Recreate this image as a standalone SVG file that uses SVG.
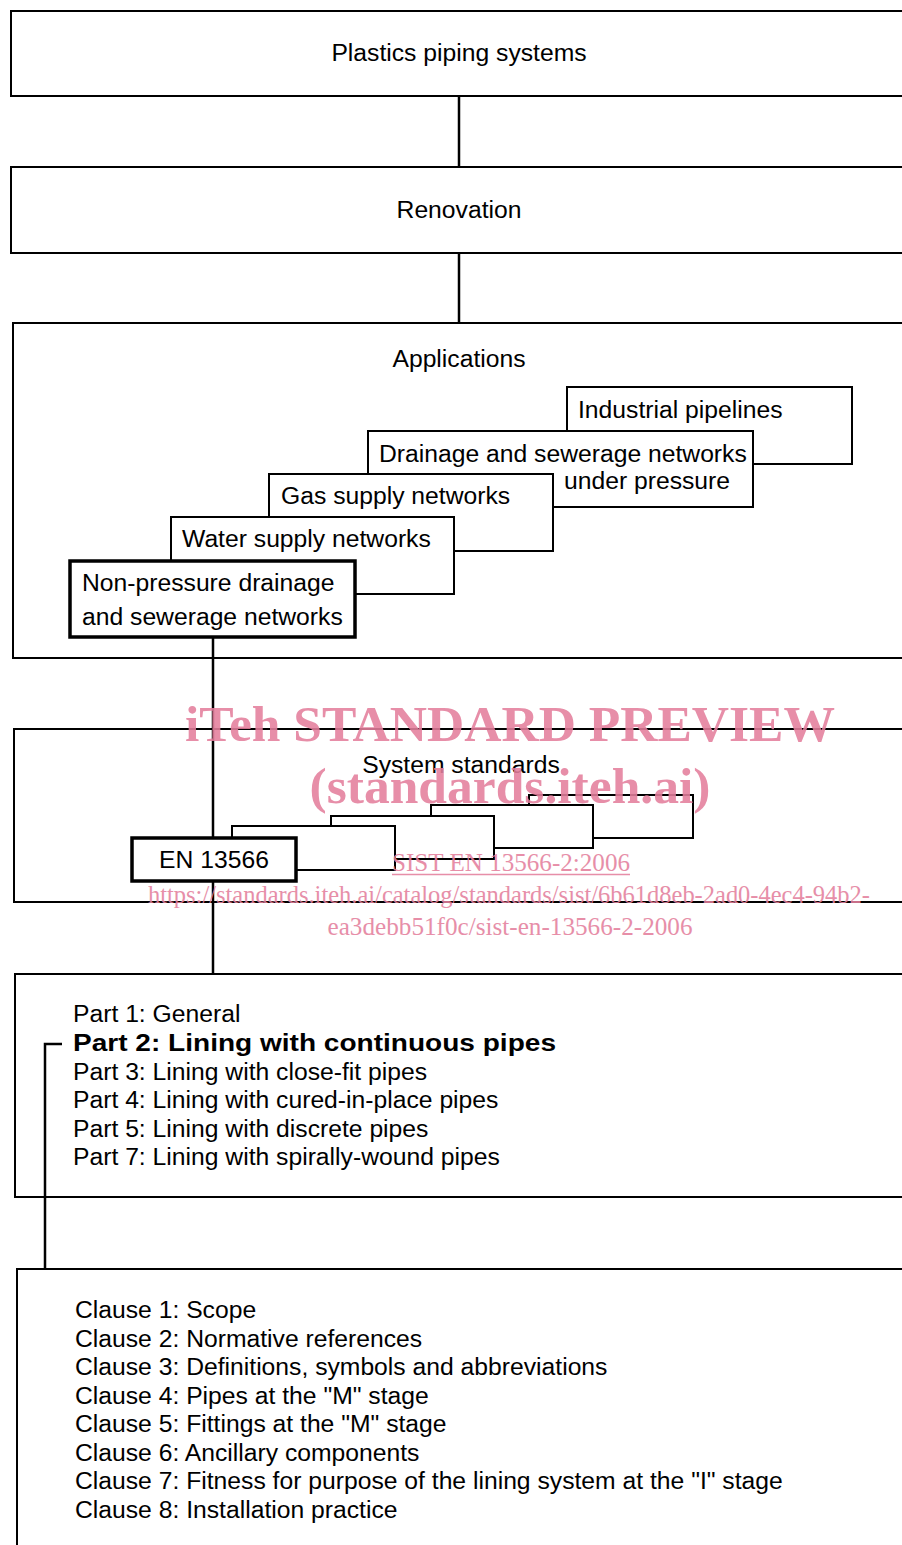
<svg xmlns="http://www.w3.org/2000/svg" width="902" height="1545" viewBox="0 0 902 1545">
<style>
.frame{fill:none;stroke:#000;stroke-width:2}
.box{fill:#fff;stroke:#000;stroke-width:2}
.thick{fill:#fff;stroke:#000;stroke-width:3.5}
.conn{fill:none;stroke:#000;stroke-width:2.5}
.t{font-family:"Liberation Sans",Arial,sans-serif;font-size:24.7px;fill:#000}
.c{text-anchor:middle}
.b{font-weight:bold}
.wm{font-family:"Liberation Serif","Times New Roman",serif;fill:#E47F9D;text-anchor:middle;opacity:0.88}
.wmb{font-weight:bold;font-size:51px}
.wms{font-size:25px}
</style>
<rect width="902" height="1545" fill="#fff"/>
<g id="connectors">
<line class="conn" x1="459" y1="96" x2="459" y2="167"/>
<line class="conn" x1="459" y1="253" x2="459" y2="323"/>
<line class="conn" x1="213" y1="638" x2="213" y2="974"/>
<polyline class="conn" points="62,1044 45,1044 45,1269"/>
</g>
<g id="n-plastics">
<rect class="frame" x="11" y="11" width="900" height="85"/>
<text class="t c" x="459" y="61">Plastics piping systems</text>
</g>
<g id="n-renovation">
<rect class="frame" x="11" y="167" width="900" height="86"/>
<text class="t c" x="459" y="218">Renovation</text>
</g>
<g id="n-applications">
<rect class="frame" x="13" y="323" width="900" height="335"/>
<text class="t c" x="459" y="367">Applications</text>
</g>
<g id="n-industrial">
<rect class="box" x="567" y="387" width="285" height="77"/>
<text class="t" x="578" y="418">Industrial pipelines</text>
</g>
<g id="n-drainage-pressure">
<rect class="box" x="368" y="431" width="385" height="76"/>
<text class="t" x="379" y="462">Drainage and sewerage networks</text>
<text class="t" x="564" y="489">under pressure</text>
</g>
<g id="n-gas">
<rect class="box" x="269" y="474" width="284" height="77"/>
<text class="t" x="281" y="504">Gas supply networks</text>
</g>
<g id="n-water">
<rect class="box" x="171" y="517" width="283" height="77"/>
<text class="t" x="182" y="547">Water supply networks</text>
</g>
<g id="n-nonpressure">
<rect class="thick" x="70" y="561" width="285" height="76"/>
<text class="t" x="82" y="591">Non-pressure drainage</text>
<text class="t" x="82" y="625">and sewerage networks</text>
</g>
<g id="n-system">
<rect class="frame" x="14" y="729" width="900" height="173"/>
<text class="t c" x="461" y="773">System standards</text>
</g>
<g id="n-sys-a"><rect class="box" x="529" y="795" width="164" height="43"/></g>
<g id="n-sys-b"><rect class="box" x="431" y="805" width="162" height="43"/></g>
<g id="n-sys-c"><rect class="box" x="331" y="816" width="163" height="43"/></g>
<g id="n-sys-d"><rect class="box" x="232" y="826" width="163" height="44"/></g>
<g id="n-en13566">
<rect class="thick" x="132" y="838" width="164" height="43"/>
<text class="t c" x="214" y="868">EN 13566</text>
</g>
<g id="n-parts">
<rect class="frame" x="15" y="974" width="900" height="223"/>
<text class="t" x="73" y="1022">Part 1: General</text>
<text class="t b" x="73" y="1051" textLength="483" lengthAdjust="spacingAndGlyphs">Part 2: Lining with continuous pipes</text>
<text class="t" x="73" y="1080">Part 3: Lining with close-fit pipes</text>
<text class="t" x="73" y="1108">Part 4: Lining with cured-in-place pipes</text>
<text class="t" x="73" y="1137">Part 5: Lining with discrete pipes</text>
<text class="t" x="73" y="1165">Part 7: Lining with spirally-wound pipes</text>
</g>
<g id="n-clauses">
<rect class="frame" x="17" y="1269" width="900" height="300"/>
<text class="t" x="75" y="1318">Clause 1: Scope</text>
<text class="t" x="75" y="1347">Clause 2: Normative references</text>
<text class="t" x="75" y="1375">Clause 3: Definitions, symbols and abbreviations</text>
<text class="t" x="75" y="1404">Clause 4: Pipes at the "M" stage</text>
<text class="t" x="75" y="1432">Clause 5: Fittings at the "M" stage</text>
<text class="t" x="75" y="1461">Clause 6: Ancillary components</text>
<text class="t" x="75" y="1489">Clause 7: Fitness for purpose of the lining system at the "I" stage</text>
<text class="t" x="75" y="1518">Clause 8: Installation practice</text>
</g>
<g id="watermark">
<text class="wm wmb" x="510" y="741" textLength="650" lengthAdjust="spacingAndGlyphs">iTeh STANDARD PREVIEW</text>
<text class="wm wmb" x="510" y="803" textLength="401" lengthAdjust="spacingAndGlyphs">(standards.iteh.ai)</text>
<text class="wm wms" x="511" y="871" textLength="238" lengthAdjust="spacingAndGlyphs">SIST EN 13566-2:2006</text>
<line x1="392" y1="874.5" x2="630" y2="874.5" stroke="#E47F9D" stroke-width="1.5" opacity="0.88"/>
<text class="wm wms" x="509" y="903" textLength="722" lengthAdjust="spacingAndGlyphs">https://standards.iteh.ai/catalog/standards/sist/6b61d8eb-2ad0-4ec4-94b2-</text>
<text class="wm wms" x="510" y="935" textLength="365" lengthAdjust="spacingAndGlyphs">ea3debb51f0c/sist-en-13566-2-2006</text>
</g>
</svg>
